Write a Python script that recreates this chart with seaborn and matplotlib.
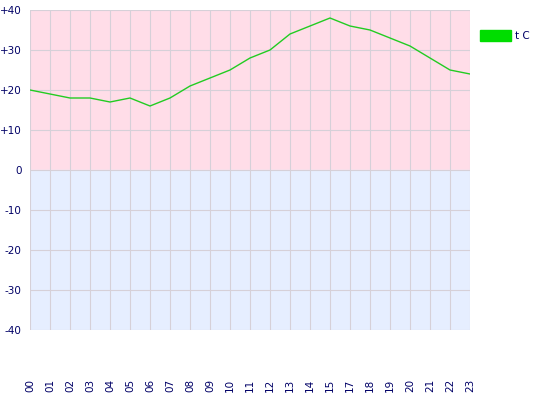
import numpy as np
import pandas as pd
import seaborn as sns
import matplotlib
matplotlib.use("Agg")
import matplotlib.pyplot as plt

hours = ["00", "01", "02", "03", "04", "05", "06", "07", "08", "09", "10", "11",
         "12", "13", "14", "15", "17", "18", "19", "20", "21", "22", "23"]
temps = [20, 19, 18, 18, 17, 18, 16, 18, 21, 23, 25, 28,
         30, 34, 36, 38, 36, 35, 33, 31, 28, 25, 24]
yticks = [-40, -30, -20, -10, 0, 10, 20, 30, 40]
ylabels = ["-40", "-30", "-20", "-10", "0", "+10", "+20", "+30", "+40"]

df = pd.DataFrame({"pos": np.arange(len(hours)), "hour": hours, "t": temps})

sns.set_style("white")
plt.rcParams['font.family'] = ['DejaVu Sans']
navy = "#000066"

fig = plt.figure(figsize=(5.4, 4.0), dpi=100)
ax = fig.add_axes([30 / 540, 70 / 400, 440 / 540, 320 / 400])

ax.axhspan(0, 40, color="#ffdde8", zorder=0)
ax.axhspan(-40, 0, color="#e6eeff", zorder=0)

for p in df["pos"]:
    ax.axvline(p, color="#d6d0d8", lw=0.8, zorder=1)
for v in yticks:
    ax.axhline(v, color="#d6d0d8", lw=0.8, zorder=1)

sns.lineplot(data=df, x="pos", y="t", ax=ax, color="#22cc22", lw=1.0,
             legend=False, zorder=3)

ax.set_xlim(0, len(hours) - 1)
ax.set_ylim(-40, 40)
ax.set_xticks(df["pos"])
ax.set_xticklabels(hours, rotation=90, fontsize=7.5, color=navy)
ax.set_yticks(yticks)
ax.set_yticklabels(ylabels, fontsize=7.5, color=navy)
ax.tick_params(axis="x", length=0, pad=35)
ax.tick_params(axis="y", length=0, pad=6)
ax.set_xlabel("")
ax.set_ylabel("")
for s in ax.spines.values():
    s.set_visible(False)

fig.patches.append(plt.Rectangle((480 / 540, 1 - 41 / 400), 31 / 540, 11 / 400,
                                 transform=fig.transFigure, color="#00dd00"))
fig.text(515 / 540, 1 - 36 / 400, "t C", fontsize=7.5, color=navy,
         va="center", ha="left")

fig.savefig("out.png", dpi=100)
